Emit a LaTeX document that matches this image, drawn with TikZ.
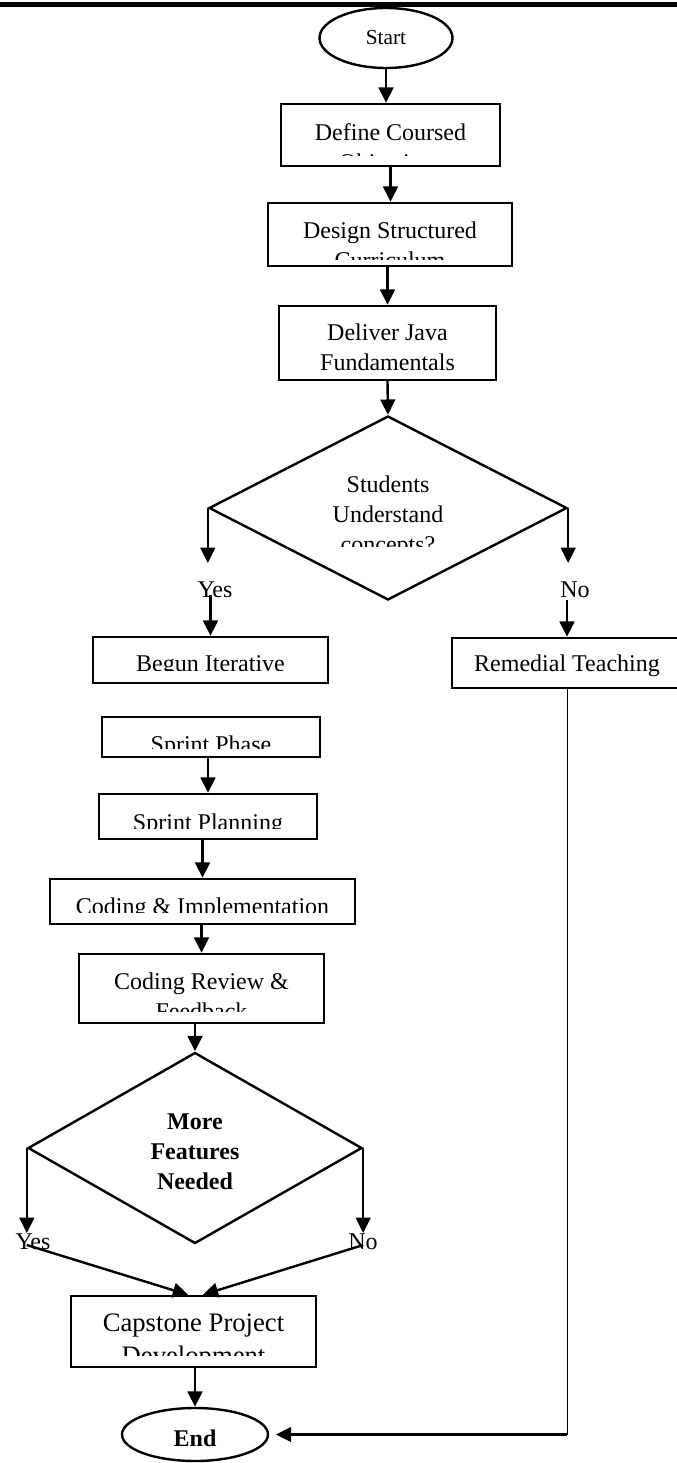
\documentclass[tikz,border=0pt]{standalone}
\usepackage{fontspec}
\setmainfont{Liberation Serif}
\usetikzlibrary{arrows.meta,
                calc,
                positioning,
                shapes.geometric}
\newcommand\boxfont{\fontsize{18}{22.5}\selectfont}
\newcommand\capfont{\fontsize{20}{24.75}\selectfont}
\newcommand\startfont{\fontsize{16}{19}\selectfont}

\begin{document}
\begin{tikzpicture}[x=0.75pt,y=-0.75pt,
  arr/.style={line width=1.8pt,-{Triangle[length=11.5pt,width=11pt]}},
  box/.style={draw,line width=1.8pt,rectangle,inner sep=0pt},
  term/.style={draw,line width=1.8pt,ellipse,inner sep=0pt},
  decide/.style={draw,line width=1.8pt,diamond,inner sep=0pt},
  lbl/.style={inner sep=0pt,anchor=base,font=\boxfont},
  inner text/.style={shape=rectangle,draw=none,minimum width=0pt,minimum height=0pt,
      text height=,text depth=,inner sep=0pt,anchor=north,align=center},
  cuttext/.style n args={4}{path picture={
      \clip ([yshift=#2]path picture bounding box.south west) rectangle (path picture bounding box.north east);
      \node[inner text,font=#3] at ([yshift=-#1]path picture bounding box.north) {#4};}}]
\path[use as bounding box,clip] (0,0) rectangle (677,1463);
\draw[line width=3.75pt] (0,5) -- (677,5);
% main column
\node[term,minimum width=99.75pt,minimum height=45pt,font=\startfont] (start) at (386,38) {Start};
\node[box,minimum width=164.25pt,minimum height=46.5pt,cuttext={13.5pt}{8.25pt}{\boxfont}{Define Coursed\\Objectives}] (define) at (390.5,135) {};
\node[box,minimum width=183pt,minimum height=47.25pt,cuttext={13.5pt}{5.25pt}{\boxfont}{Design Structured\\Curriculum}] (design) at (390,234.5) {};
\node[box,minimum width=162.75pt,minimum height=55.5pt,cuttext={12.75pt}{0pt}{\boxfont}{Deliver Java\\Fundamentals}] (deliver) at (387.5,343) {};
\node[decide,minimum width=268.5pt,minimum height=138pt,cuttext={43.5pt}{39.75pt}{\boxfont}{Students\\Understand\\concepts?}] (check) at (388,508) {};
\node[lbl] (yesA) at (215,597) {Yes};
\node[lbl] (noA) at (575,597) {No};
\node[box,minimum width=176.25pt,minimum height=34.5pt,cuttext={12.75pt}{9.75pt}{\boxfont}{Begun Iterative}] (begun) at (210.5,660) {};
\node[box,minimum width=172.5pt,minimum height=37.5pt,cuttext={12pt}{0pt}{\boxfont}{Remedial Teaching}] (remedial) at (567,663) {};
% sprint loop
\node[box,minimum width=163.5pt,minimum height=30pt,cuttext={13.5pt}{6.75pt}{\boxfont}{Sprint Phase}] (phase) at (211,737) {};
\node[box,minimum width=163.5pt,minimum height=33.75pt,cuttext={14.25pt}{8.25pt}{\boxfont}{Sprint Planning}] (planning) at (208,816.5) {};
\node[box,minimum width=228.75pt,minimum height=33.75pt,cuttext={13.5pt}{9pt}{\boxfont}{Coding \& Implementation}] (coding) at (202.5,901.5) {};
\node[box,minimum width=183.75pt,minimum height=51.75pt,cuttext={13.5pt}{9pt}{\boxfont}{Coding Review \&\\Feedback}] (review) at (201.5,988.5) {};
\node[decide,minimum width=250.5pt,minimum height=143.25pt,cuttext={45pt}{0pt}{\boxfont\bfseries}{More\\Features\\Needed}] (more) at (195,1148) {};
\node[lbl] (yesB) at (33,1249) {Yes};
\node[lbl] (noB) at (363,1249) {No};
\node[box,minimum width=183.75pt,minimum height=53.25pt,cuttext={12.75pt}{9pt}{\capfont}{Capstone Project\\Development}] (capstone) at (193.5,1331.5) {};
\node[term,minimum width=109.5pt,minimum height=39.75pt,text height=18pt,font=\boxfont\bfseries] (end) at (195,1434.5) {End};
% arrows
\draw[arr] (start.south) -- (start.south |- define.north);
\draw[arr] (define.south) -- (define.south |- design.north);
\draw[arr] (deliver.north |- design.south) -- (deliver.north);
\draw[arr] (deliver.south) -- (check.north);
\draw[arr] (check.west) -- ([yshift=13.5pt]check.west |- yesA.north);
\draw[arr] (check.east) -- ([yshift=13.5pt]check.east |- noA.north);
\draw[arr] ([yshift=1.5pt]yesA.base -| begun.north) -- (begun.north);
\draw[arr] ([yshift=-2.25pt]noA.base -| remedial.north) -- (remedial.north);
\draw[arr] (planning.north |- phase.south) -- (planning.north);
\draw[arr] (coding.north |- planning.south) -- (coding.north);
\draw[arr] (review.north |- coding.south) -- (review.north);
\draw[arr] (more.north |- review.south) -- (more.north);
\draw[arr] (more.west) -- (more.west |- yesB.north);
\draw[arr] (more.east) -- (more.east |- noB.north);
\draw[arr] ([yshift=3pt]yesB.base -| more.west) -- ([xshift=-4pt]capstone.north);
\draw[arr] ([yshift=3pt]noB.base -| more.east) -- ([xshift=7pt]capstone.north);
\draw[arr] (end.north |- capstone.south) -- (end.north);
\coordinate (turn) at (remedial.south |- end.east);
\draw[line width=0.75pt] (remedial.south) -- (turn);
\draw[arr,shorten >=5pt] (turn) -- (end.east);
\end{tikzpicture}
\end{document}
